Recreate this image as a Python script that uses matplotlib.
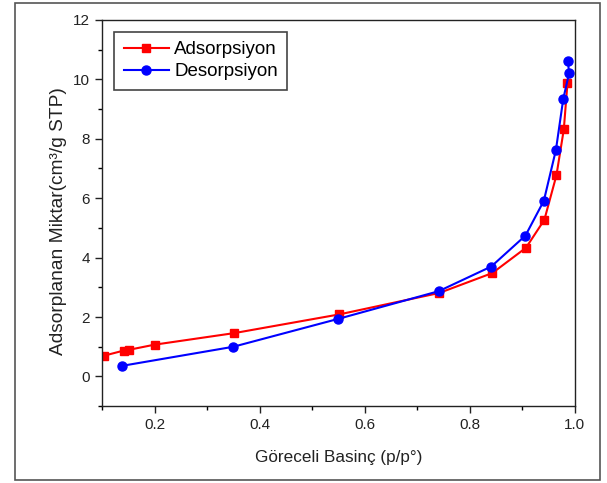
import matplotlib
matplotlib.use("Agg")
import matplotlib.pyplot as plt
from matplotlib.ticker import MultipleLocator
from matplotlib.patches import Rectangle

plt.rcParams['font.family'] = ['Liberation Sans', 'DejaVu Sans']

ads_x = [0.104, 0.141, 0.152, 0.200, 0.352, 0.552, 0.742, 0.843, 0.907, 0.942, 0.965, 0.979, 0.986]
ads_y = [0.70, 0.87, 0.90, 1.07, 1.46, 2.09, 2.81, 3.48, 4.33, 5.27, 6.77, 8.31, 9.87]

des_x = [0.987, 0.989, 0.978, 0.964, 0.941, 0.906, 0.841, 0.741, 0.550, 0.350, 0.139]
des_y = [10.60, 10.20, 9.34, 7.62, 5.91, 4.74, 3.70, 2.87, 1.94, 1.00, 0.36]

fig = plt.figure(figsize=(6.07, 4.83), dpi=100)
ax = fig.add_axes([0.168, 0.159, 0.779, 0.800])

ax.plot(ads_x, ads_y, color='#ff0000', marker='s', markersize=6, linewidth=1.5, label='Adsorpsiyon')
ax.plot(des_x, des_y, color='#0000ff', marker='o', markersize=6.5, linewidth=1.5, label='Desorpsiyon')

ax.set_xlim(0.1, 1.0)
ax.set_ylim(-1, 12)
ax.xaxis.set_major_locator(MultipleLocator(0.2))
ax.xaxis.set_minor_locator(MultipleLocator(0.1))
ax.yaxis.set_major_locator(MultipleLocator(2))
ax.yaxis.set_minor_locator(MultipleLocator(1))
ax.set_xticks([0.2, 0.4, 0.6, 0.8, 1.0])
ax.set_xticklabels(['0.2', '0.4', '0.6', '0.8', '1.0'])
ax.tick_params(which='major', direction='out', length=5, width=1, labelsize=11, colors='#222222')
ax.tick_params(which='minor', direction='out', length=3, width=1)
for s in ax.spines.values():
    s.set_linewidth(1.0)
    s.set_color('#222222')

ax.set_xlabel('Göreceli Basinç (p/p°)', fontsize=12.3, labelpad=13, color='#222222')
ax.set_ylabel('Adsorplanan Miktar(cm³/g STP)', fontsize=13.8, color='#222222')
ax.yaxis.set_label_coords(-0.075, 0.48)

leg = ax.legend(loc='upper left', bbox_to_anchor=(0.006, 0.993), fontsize=13.5, fancybox=False,
                edgecolor='#444444', framealpha=1, borderpad=0.5, handlelength=2.4,
                labelspacing=0.25, handletextpad=0.3)
leg.get_frame().set_linewidth(1.2)

fig.patches.append(Rectangle((15/607, 3/483), 585/607, 477/483, transform=fig.transFigure,
                             fill=False, edgecolor='#555555', linewidth=1.2))

fig.savefig('out.png', dpi=100)
